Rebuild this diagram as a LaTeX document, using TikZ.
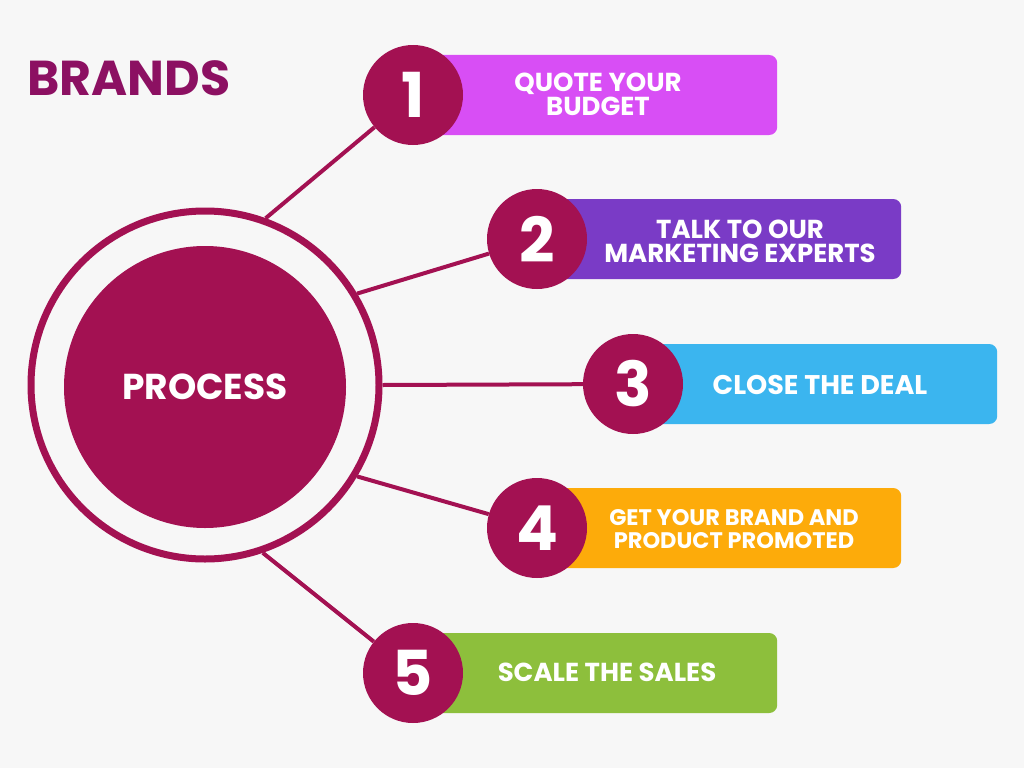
\documentclass[tikz,border=0pt]{standalone}
\usepackage{fontspec}
\setmainfont{Poppins}
\usepackage{tikz}
\usetikzlibrary{positioning}

\definecolor{pagebg}{HTML}{F7F7F7}
\definecolor{plum}{HTML}{A31152}
\definecolor{titleplum}{HTML}{8C1062}
\definecolor{barone}{HTML}{D84EF5}
\definecolor{bartwo}{HTML}{7A3BC6}
\definecolor{barthree}{HTML}{3BB5EF}
\definecolor{barfour}{HTML}{FDAB0A}
\definecolor{barfive}{HTML}{8DBF3C}

\begin{document}
\begin{tikzpicture}[x=1pt, y=-1pt,
        numdot/.style={circle, fill=plum, text=white, minimum size=100pt, inner sep=0pt, font=\fontsize{62}{62}\selectfont\bfseries},
        stepbar/.style={rectangle, rounded corners=8pt, minimum width=364pt, minimum height=80pt, anchor=west},
        steptext/.style={text=white, align=center, font=\fontsize{26}{24}\selectfont\bfseries},
        link/.style={plum, line width=4pt}]
        \fill[pagebg] (0, 0) rectangle (1024, 768);
        \useasboundingbox (0, 0) rectangle (1024, 768);
        \node[anchor=base west, inner sep=0pt, text=titleplum, font=\fontsize{49}{49}\selectfont\bfseries] (title) at (27, 95) {BRANDS};
        % centre
        \node[circle, draw=plum, line width=7pt, minimum size=348pt, inner sep=0pt] (ring) at (205, 385) {};
        \node[circle, fill=plum, minimum size=282pt, inner sep=0pt, text=white, font=\fontsize{36}{36}\selectfont\bfseries] (process) at (205, 387) {PROCESS};
        % bars
        \node[stepbar, fill=barone] (b1) at (413, 95) {};
        \node[stepbar, fill=bartwo] (b2) at (537, 239) {};
        \node[stepbar, fill=barthree] (b3) at (633, 384) {};
        \node[stepbar, fill=barfour] (b4) at (537, 528) {};
        \node[stepbar, fill=barfive] (b5) at (413, 673) {};
        \node[numdot] (n1) at (413, 95) {1};
        \node[numdot] (n2) at (537, 239) {2};
        \node[numdot] (n3) at (633, 384) {3};
        \node[numdot] (n4) at (537, 528) {4};
        \node[numdot] (n5) at (413, 673) {5};
        \node[steptext] (t1) at (598, 94) {QUOTE YOUR\\BUDGET};
        \node[steptext] (t2) at (740, 241) {TALK TO OUR\\MARKETING EXPERTS};
        \node[steptext, font=\fontsize{27}{24}\selectfont\bfseries] (t3) at (820, 385) {CLOSE THE DEAL};
        \node[steptext, font=\fontsize{22.5}{22.5}\selectfont\bfseries] (t4) at (734, 529) {GET YOUR BRAND AND\\PRODUCT PROMOTED};
        \node[steptext] (t5) at (607, 672) {SCALE THE SALES};
        % links
        \draw[link] (ring.70) -- (n1);
        \draw[link] (ring.31.5) -- (n2);
        \draw[link] (ring.0) -- (n3);
        \draw[link] (ring.-31.5) -- (n4);
        \draw[link] (ring.-71) -- (n5);
\end{tikzpicture}
\end{document}
